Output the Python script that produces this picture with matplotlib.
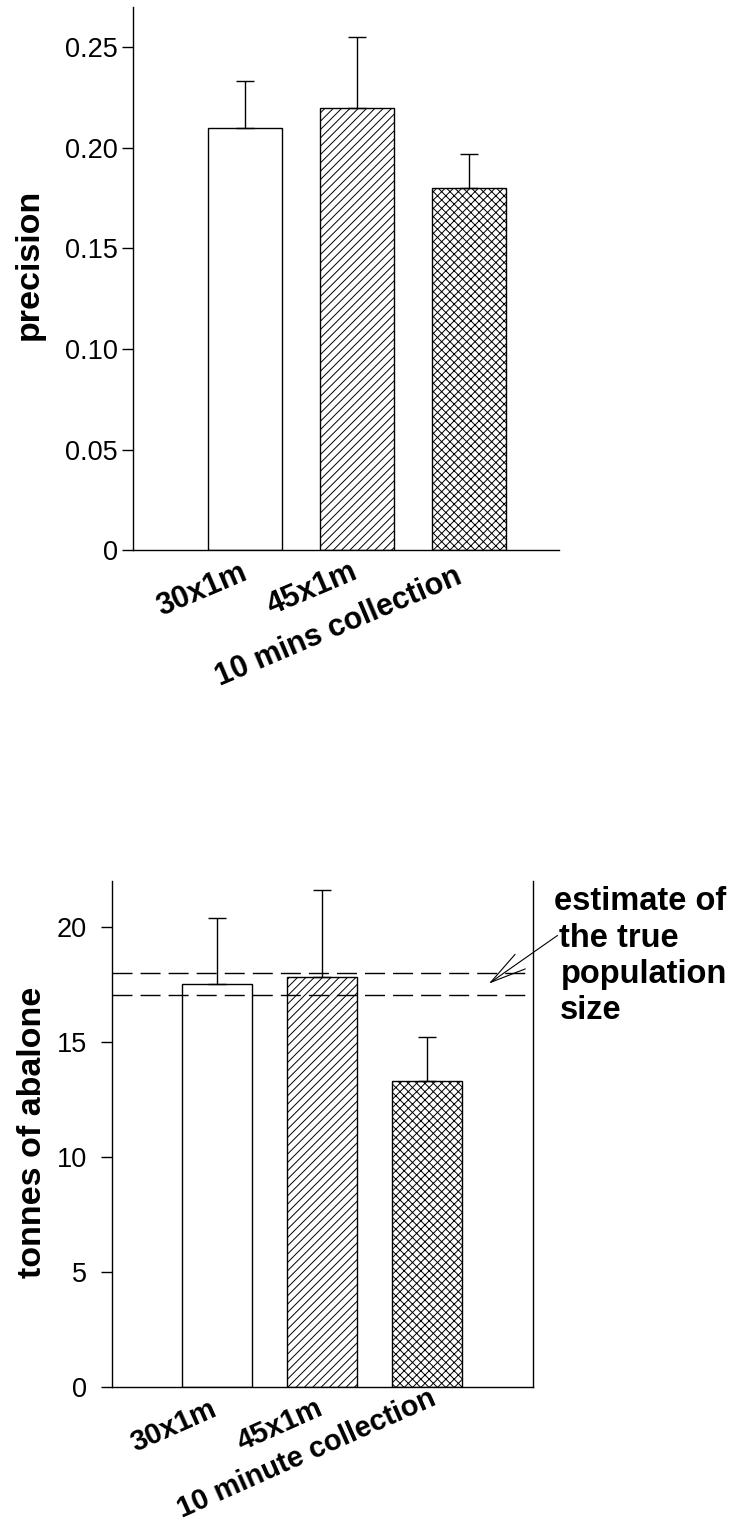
import matplotlib.pyplot as plt
from matplotlib.transforms import ScaledTranslation

# data
methods_top = ['30x1m', '45x1m', '10 mins collection']
precision = [0.21, 0.22, 0.18]
precision_err = [0.023, 0.035, 0.017]

methods_bottom = ['30x1m', '45x1m', '10 minute collection']
tonnes = [17.5, 17.8, 13.3]
tonnes_err = [2.9, 3.8, 1.9]
true_estimate = [17.05, 18.0]

prec_ticks = [0, 0.05, 0.10, 0.15, 0.20, 0.25]
prec_ticklabels = ['0', '0.05', '0.10', '0.15', '0.20', '0.25']
tonne_ticks = [0, 5, 10, 15, 20]

hatches = ['', '////', 'xxxx']
note_lines = ['estimate of', 'the true', 'population', 'size']

plt.rcParams['hatch.linewidth'] = 0.7
tick_font = {'family': 'Liberation Sans', 'size': 19.5}
ylab_font = {'family': 'Liberation Sans', 'size': 24.5, 'weight': 'bold'}
note_font = {'family': 'Liberation Sans', 'size': 23.5, 'weight': 'bold'}

W, H = 734, 1526
fig = plt.figure(figsize=(W / 100, H / 100), dpi=100)


def px_axes(left, right, top, bottom):
    return fig.add_axes([left / W, (H - bottom) / H, (right - left) / W, (bottom - top) / H])


def draw_bars(ax, values, errs, labels, rot, size, nudges):
    x = list(range(len(values)))
    ax.bar(x, values, width=0.66, color='white', edgecolor='black',
           linewidth=1.0, hatch=hatches, zorder=2)
    ax.errorbar(x, values, yerr=[[0] * len(errs), errs], fmt='none',
                ecolor='black', elinewidth=1.0, capsize=6.5, capthick=1.0, zorder=3)
    ax.set_xticks(x)
    ax.set_xticklabels(labels, rotation=rot, ha='right', rotation_mode='anchor',
                       family='Liberation Sans', size=size, weight='bold')
    ax.tick_params(axis='x', length=0, pad=9)
    # small pixel nudges so the label ends sit where the reference has them
    for lab, (dx, dy) in zip(ax.get_xticklabels(), nudges):
        lab.set_transform(lab.get_transform() +
                          ScaledTranslation(dx / 100, -dy / 100, fig.dpi_scale_trans))
    ax.spines['top'].set_visible(False)
    for s in ax.spines.values():
        s.set_linewidth(1.0)
    return x


# top panel: precision
ax1 = px_axes(133, 559, 7, 550.3)
draw_bars(ax1, precision, precision_err, methods_top, 23, 22,
          [(-5, -5), (-7, -6), (-15, -1)])
ax1.set_xlim(-1, 2.8)
ax1.set_ylim(0, 0.27)
ax1.spines['right'].set_visible(False)
ax1.set_yticks(prec_ticks)
ax1.set_yticklabels(prec_ticklabels, fontdict=tick_font)
ax1.tick_params(axis='y', length=8, width=1.0, pad=3)
ax1.set_ylabel('precision', fontdict=ylab_font)
ax1.yaxis.set_label_coords(-0.208, 0.527)

# bottom panel: tonnes
ax2 = px_axes(111.7, 533.3, 880.7, 1387)
draw_bars(ax2, tonnes, tonnes_err, methods_bottom, 24, 21,
          [(-8, -5), (-7, -6), (2, -15)])
ax2.set_xlim(-1, 3.01)
ax2.set_ylim(0, 22)
ax2.set_yticks(tonne_ticks)
ax2.set_yticklabels([str(t) for t in tonne_ticks], fontdict=tick_font)
ax2.tick_params(axis='y', length=8, width=1.0, pad=10)
ax2.set_ylabel('tonnes of abalone', fontdict=ylab_font)
ax2.yaxis.set_label_coords(-0.15, 0.503)

for yv in true_estimate:
    ax2.axhline(yv, color='black', linewidth=1.0, dashes=(14.4, 5.8), zorder=4)

ax2.annotate('', xy=(2.586, sum(true_estimate) / 2), xytext=(3.24, 19.62),
             annotation_clip=False,
             arrowprops=dict(arrowstyle='->, head_length=1.3, head_width=0.32',
                             color='black', linewidth=0.8, mutation_scale=20,
                             shrinkA=0, shrinkB=0))

note_pos = [(554, 910), (559, 947), (561, 983), (560, 1019)]
for line, (px, py) in zip(note_lines, note_pos):
    fig.text(px / W, (H - py) / H, line, fontdict=note_font, ha='left', va='baseline')

fig.savefig('out.png', dpi=100)
